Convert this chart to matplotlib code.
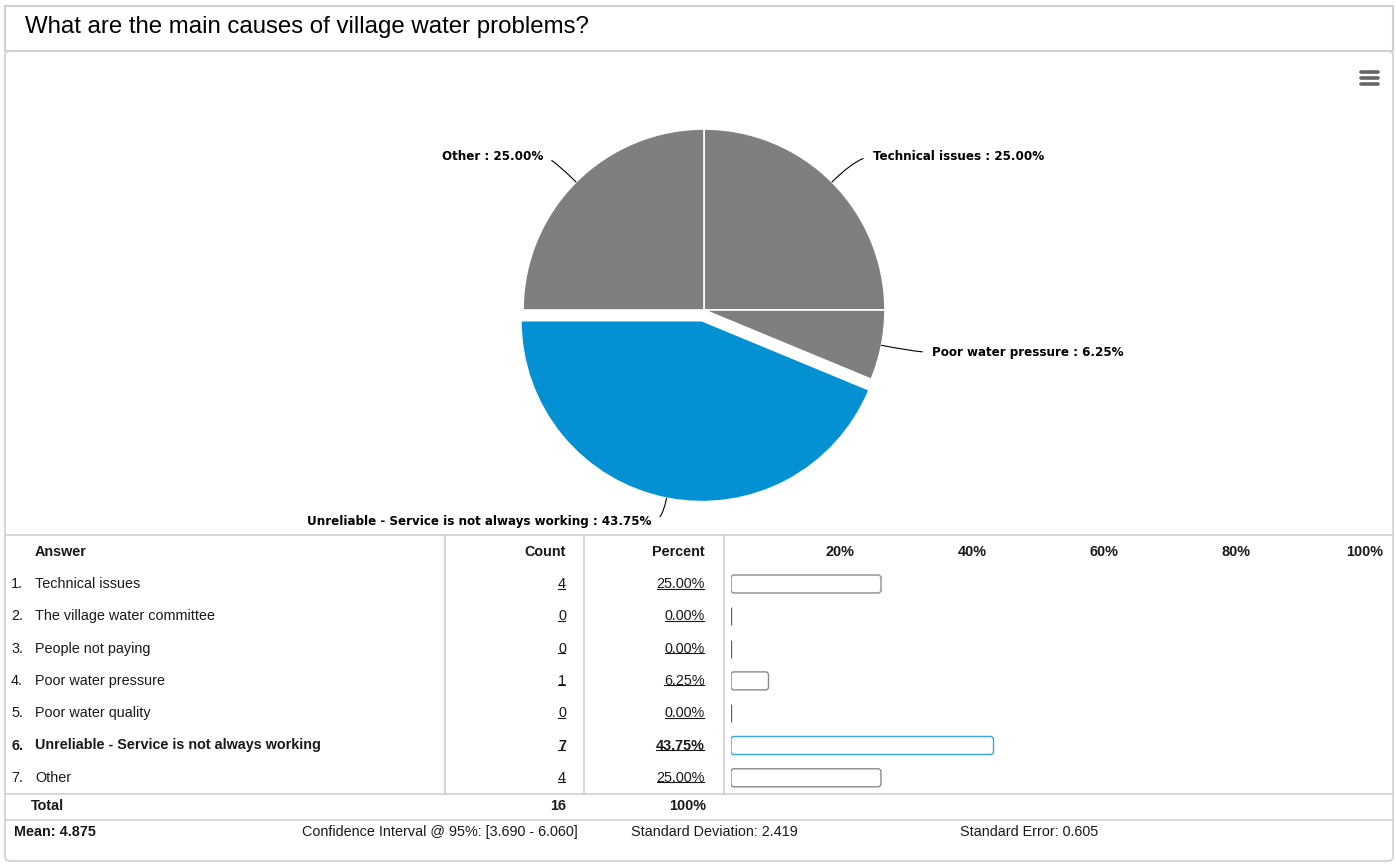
import numpy as np
import matplotlib
matplotlib.use("Agg")
import matplotlib.pyplot as plt
from matplotlib.patches import FancyBboxPatch, Rectangle

# ---- survey data -------------------------------------------------------
question = "What are the main causes of village water problems?"
answers = [
    "Technical issues",
    "The village water committee",
    "People not paying",
    "Poor water pressure",
    "Poor water quality",
    "Unreliable - Service is not always working",
    "Other",
]
counts = [4, 0, 0, 1, 0, 7, 4]
highlight = "Unreliable - Service is not always working"
scale_ticks = [20, 40, 60, 80, 100]

# ---- derived statistics ------------------------------------------------
c = np.array(counts, dtype=float)
codes = np.arange(1, len(answers) + 1)
total = int(c.sum())
pct = c / total * 100
mean = (codes * c).sum() / total
sd = np.sqrt(((codes - mean) ** 2 * c).sum() / (total - 1))
se = sd / np.sqrt(total)
ci_lo, ci_hi = mean - 1.96 * se, mean + 1.96 * se

GREY = "#7f7f7f"
BLUE = "#0391d4"
LINE = "#d0d0d0"
TXT = "#1a1a1a"
TABLE_FONT = "Liberation Sans"

W, H = 1396, 864
fig = plt.figure(figsize=(W / 100, H / 100), dpi=100)
fig.patch.set_facecolor("white")

bg = fig.add_axes([0, 0, 1, 1])
bg.set_xlim(0, W)
bg.set_ylim(H, 0)
bg.axis("off")


def px_axes(x0, y0, w, h):
    """Axes placed by a pixel box given from the top-left corner."""
    return fig.add_axes([x0 / W, 1 - (y0 + h) / H, w / W, h / H])


# ---- frames -------------------------------------------------------------
bg.add_patch(FancyBboxPatch((5, 51), 1388, 810, boxstyle="round,pad=0,rounding_size=5",
                            fc="white", ec=LINE, lw=1.2))
bg.add_patch(Rectangle((5, 6), 1388, 45, fc="white", ec=LINE, lw=1.5))
bg.text(25, 27, question, fontsize=17.3, family=TABLE_FONT, color="#000000",
        ha="left", va="center")

# menu icon
for yy in (72, 78, 84):
    bg.plot([1361, 1378], [yy, yy], color="#666666", lw=2.6, solid_capstyle="round")

# ---- pie ----------------------------------------------------------------
cx, cy, R = 704, 310, 181
half = 200
pie_ax = px_axes(cx - half, cy - half, 2 * half, 2 * half)

shown = [i for i, v in enumerate(counts) if v > 0]
pie_vals = [counts[i] for i in shown]
pie_cols = [BLUE if answers[i] == highlight else GREY for i in shown]
explode = [0.06 if answers[i] == highlight else 0 for i in shown]
wedges, _ = pie_ax.pie(pie_vals, colors=pie_cols, explode=explode, startangle=90,
                       counterclock=False, radius=1,
                       wedgeprops=dict(edgecolor="white", linewidth=1.2))
lim = half / R
pie_ax.set_xlim(-lim, lim)
pie_ax.set_ylim(-lim, lim)
pie_ax.axis("off")

label_font = dict(family="DejaVu Sans", fontstretch="condensed", fontweight="bold",
                  fontsize=9.5, color="black")
r_lab, gap, floor_y = 1.2, 0.083, -1.17
for w, i in zip(wedges, shown):
    mid = np.deg2rad((w.theta1 + w.theta2) / 2)
    ox, oy = w.center
    ex, ey = ox + np.cos(mid), oy + np.sin(mid)
    lx, ly = ox + r_lab * np.cos(mid), oy + r_lab * np.sin(mid)
    ly = max(ly, floor_y)  # keep labels above the table
    right = np.cos(mid) >= 0
    lx += gap if right else -gap * 0.5
    text = f"{answers[i]} : {pct[i]:.2f}%"
    pie_ax.annotate(
        text, xy=(ex, ey), xytext=(lx, ly), ha="left" if right else "right",
        va="center", annotation_clip=False, **label_font,
        arrowprops=dict(arrowstyle="-", color="black", lw=0.8, shrinkA=5, shrinkB=0,
                        relpos=(0, 0.5) if right else (1, 0.5),
                        connectionstyle=f"angle3,angleA=0,angleB={np.rad2deg(mid):.1f}"),
    )

# ---- table --------------------------------------------------------------
top, row0, dy = 535, 584, 32.3
rows_bottom, total_line = 794, 820
bg.plot([5, 1393], [top, top], color=LINE, lw=1.2)
bg.plot([5, 1393], [rows_bottom, rows_bottom], color=LINE, lw=1.2)
bg.plot([5, 1393], [total_line, total_line], color=LINE, lw=1.2)
for xv in (445, 584, 724):
    bg.plot([xv, xv], [top, rows_bottom], color=LINE, lw=1.2)

cnt_x, pct_x = 566, 705
hdr_y = 552
tf = dict(family=TABLE_FONT, fontsize=10.4, color=TXT, va="center")
bg.text(35, hdr_y, "Answer", ha="left", fontweight="bold", **tf)
bg.text(cnt_x, hdr_y, "Count", ha="right", fontweight="bold", **tf)
bg.text(pct_x, hdr_y, "Percent", ha="right", fontweight="bold", **tf)
col_w = (1385 - 724) / len(scale_ticks)
for k, t in enumerate(scale_ticks):
    bg.text(724 + col_w * (k + 1) - 2, hdr_y, f"{t}%", ha="right", fontweight="bold", **tf)

underlined = []
for i, (a, n) in enumerate(zip(answers, counts)):
    y = row0 + i * dy
    fw = "bold" if a == highlight else "normal"
    bg.text(11, y, f"{i + 1}.", ha="left", fontweight=fw, **tf)
    bg.text(35, y, a, ha="left", fontweight=fw, **tf)
    underlined.append(bg.text(cnt_x, y, f"{n}", ha="right", fontweight=fw, **tf))
    underlined.append(bg.text(pct_x, y, f"{pct[i]:.2f}%", ha="right", fontweight=fw, **tf))

tot_y = 806
bg.text(31, tot_y, "Total", ha="left", fontweight="bold", **tf)
bg.text(cnt_x, tot_y, f"{total}", ha="right", fontweight="bold", **tf)
bg.text(pct_x + 1, tot_y, "100%", ha="right", fontweight="bold", **tf)

st_y = 832
sf = dict(family=TABLE_FONT, fontsize=10.4, color=TXT, va="center", ha="left")
bg.text(14, st_y, f"Mean: {mean:.3f}", fontweight="bold", **sf)
bg.text(302, st_y, f"Confidence Interval @ 95%: [{ci_lo:.3f} - {ci_hi:.3f}]", **sf)
bg.text(631, st_y, f"Standard Deviation: {sd:.3f}", **sf)
bg.text(960, st_y, f"Standard Error: {se:.3f}", **sf)

# ---- percentage bars ----------------------------------------------------
bar_x0, px_per_pct = 731, 6.0
bar_ax = px_axes(bar_x0, row0 - dy / 2, 100 * px_per_pct, dy * len(answers))
bar_ax.set_xlim(0, 100)
bar_ax.set_ylim(len(answers) - 0.5, -0.5)
bar_ax.axis("off")
bar_h = 18 / dy
radius_px = 3
rs = radius_px / px_per_pct
aspect = (radius_px / dy) / rs
for i, (a, p) in enumerate(zip(answers, pct)):
    ec = "#3aa3e0" if a == highlight else "#8a8a8a"
    if p > 0:
        bar_ax.add_patch(FancyBboxPatch(
            (0, i - bar_h / 2), p, bar_h,
            boxstyle=f"round,pad=0,rounding_size={min(rs, p / 2):.4f}",
            mutation_aspect=aspect, fc="white", ec=ec, lw=1.0))
    else:
        bar_ax.add_patch(Rectangle((0, i - bar_h / 2), p, bar_h, fc="none", ec="#666666", lw=1.0))

# underline the count / percent links
fig.canvas.draw()
renderer = fig.canvas.get_renderer()
inv = bg.transData.inverted()
for t in underlined:
    bb = t.get_window_extent(renderer)
    (x0, y0), (x1, y1) = inv.transform([[bb.x0, bb.y0], [bb.x1, bb.y1]])
    bg.plot([x0, x1 - 1], [y0 - 2.5, y0 - 2.5], color=TXT, lw=0.8)

fig.savefig("out.png", dpi=100, facecolor="white")
